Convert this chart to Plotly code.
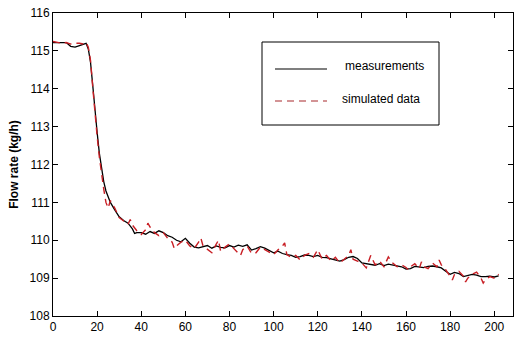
import plotly.graph_objects as go

# measurement data (time, flow rate)
meas_x = [0, 2, 4, 6, 8, 10, 12, 14, 15, 16, 17, 18, 19, 20, 21, 22, 23, 24, 26, 28, 30, 32, 34, 36, 37, 38,
          40, 42, 44, 46, 48, 50, 52, 54, 56, 58, 60, 62, 64, 66, 68, 70, 72, 74, 76, 78, 80, 82, 84, 86, 88,
          90, 92, 94, 96, 98, 100, 102, 104, 106, 108, 110, 112, 114, 116, 118, 120, 122, 124, 126, 128, 130,
          132, 134, 136, 138, 140, 142, 144, 146, 148, 150, 152, 154, 156, 158, 160, 162, 164, 166, 168, 170,
          172, 174, 176, 178, 180, 182, 184, 186, 188, 190, 192, 194, 196, 198, 200, 202]
meas_y = [115.22, 115.22, 115.21, 115.22, 115.12, 115.10, 115.14, 115.17, 115.20, 115.05, 114.7, 114.1, 113.4,
          112.85, 112.3, 111.85, 111.55, 111.3, 111.0, 110.8, 110.62, 110.52, 110.45, 110.3, 110.18, 110.2,
          110.2, 110.16, 110.23, 110.18, 110.25, 110.2, 110.12, 110.08, 110.0, 109.96, 110.05, 109.92, 109.82,
          109.8, 109.83, 109.86, 109.79, 109.85, 109.81, 109.8, 109.86, 109.82, 109.87, 109.84, 109.88,
          109.74, 109.78, 109.83, 109.79, 109.72, 109.67, 109.71, 109.65, 109.62, 109.6, 109.55, 109.57, 109.61,
          109.6, 109.57, 109.6, 109.55, 109.54, 109.51, 109.48, 109.45, 109.49, 109.55, 109.57, 109.52,
          109.4, 109.38, 109.36, 109.34, 109.38, 109.33, 109.37, 109.35, 109.33, 109.3, 109.24, 109.25,
          109.31, 109.29, 109.28, 109.31, 109.32, 109.3, 109.27, 109.18, 109.1, 109.15, 109.12, 109.04, 109.08,
          109.1, 109.08, 109.04, 109.04, 109.05, 109.03, 109.06]

# simulated data
sim_x = [0, 2, 4, 6, 8, 10, 12, 14, 15, 16, 17, 18, 19, 20, 21, 22, 23, 24, 25, 26, 28, 30, 32, 34, 35, 36,
         38, 40, 42, 43, 44, 46, 48, 50, 52, 54, 55, 56, 58, 60, 62, 64, 66, 67, 68, 70, 72, 74, 75, 76, 78,
         80, 82, 84, 85, 86, 88, 90, 92, 94, 96, 98, 100, 102, 104, 105, 106, 108, 110, 112, 114, 116, 118,
         120, 122, 124, 126, 128, 130, 132, 134, 135, 136, 138, 140, 142, 144, 146, 148, 150, 152, 154, 156,
         158, 160, 161, 162, 164, 166, 167, 168, 170, 172, 174, 175, 176, 178, 180, 181, 182, 184, 186, 187,
         188, 190, 192, 194, 195, 196, 198, 200, 202]
sim_y = [115.25, 115.22, 115.2, 115.22, 115.18, 115.2, 115.2, 115.18, 115.22, 115.1, 114.75, 114.05, 113.3,
         112.75, 112.2, 111.7, 111.35, 111.0, 110.85, 111.05, 110.85, 110.6, 110.5, 110.42, 110.55, 110.4,
         110.25, 110.15, 110.28, 110.45, 110.35, 110.2, 110.12, 110.2, 110.05, 109.95, 109.78, 109.85, 109.95,
         110.0, 109.85, 109.78, 109.95, 110.06, 109.85, 109.75, 109.67, 109.9, 110.0, 109.7, 109.82, 109.9,
         109.78, 109.65, 109.6, 109.75, 109.85, 109.65, 109.67, 109.82, 109.75, 109.68, 109.62, 109.75,
         109.85, 109.93, 109.62, 109.55, 109.6, 109.48, 109.6, 109.65, 109.55, 109.75, 109.5, 109.6, 109.45,
         109.55, 109.4, 109.5, 109.6, 109.75, 109.5, 109.45, 109.4, 109.27, 109.6, 109.35, 109.45, 109.3,
         109.56, 109.4, 109.3, 109.35, 109.28, 109.22, 109.3, 109.38, 109.25, 109.43, 109.3, 109.25, 109.4,
         109.3, 109.48, 109.35, 109.22, 109.05, 108.95, 109.1, 109.18, 109.05, 108.9, 109.0, 109.1, 109.16,
         109.0, 108.87, 108.95, 109.04, 109.0, 109.1]

RED = "#c81e24"

fig = go.Figure()
fig.add_trace(go.Scatter(x=meas_x, y=meas_y, mode="lines", name="measurements",
                         line=dict(color="black", width=1.3), showlegend=False))
fig.add_trace(go.Scatter(x=sim_x, y=sim_y, mode="lines", name="simulated data",
                         line=dict(color=RED, width=1.4, dash="7px,5px"), showlegend=False))

axis_common = dict(showline=True, linecolor="black", linewidth=1, mirror="ticks", ticks="inside",
                   ticklen=5, tickcolor="black", showgrid=False, zeroline=False,
                   tickfont=dict(family="Liberation Sans, Arial", size=12, color="black"))

fig.update_layout(
    width=515, height=341,
    margin=dict(l=53, r=2, t=13, b=25),
    paper_bgcolor="white", plot_bgcolor="white",
    xaxis=dict(range=[0, 208.5], tickvals=[0, 20, 40, 60, 80, 100, 120, 140, 160, 180, 200], **axis_common),
    yaxis=dict(range=[108, 116], tickvals=[108, 109, 110, 111, 112, 113, 114, 115, 116],
               title=dict(text="<b>Flow rate (kg/h)</b>", standoff=8,
                          font=dict(family="Liberation Sans, Arial", size=12, color="black")),
               **axis_common),
)

# manual legend box (pixel positions converted to paper coordinates)
def px(x):
    return (x - 53) / (513 - 53)
def py(y):
    return (316 - y) / (316 - 13)

fig.add_shape(type="rect", xref="paper", yref="paper", x0=px(262), x1=px(439), y0=py(125), y1=py(42),
              line=dict(color="black", width=1), fillcolor="white", layer="above")
fig.add_shape(type="line", xref="paper", yref="paper", x0=px(275), x1=px(327), y0=py(69), y1=py(69),
              line=dict(color="black", width=1.2))
fig.add_shape(type="line", xref="paper", yref="paper", x0=px(275), x1=px(327), y0=py(101), y1=py(101),
              line=dict(color="#a8282c", width=1.2, dash="7px,5px"))
fig.add_annotation(xref="paper", yref="paper", x=px(343), y=py(66), text="measurements", showarrow=False,
                   xanchor="left", yanchor="middle", font=dict(family="Liberation Sans, Arial", size=12, color="black"))
fig.add_annotation(xref="paper", yref="paper", x=px(340), y=py(99), text="simulated data", showarrow=False,
                   xanchor="left", yanchor="middle", font=dict(family="Liberation Sans, Arial", size=12, color="black"))

fig.write_html("out.html")
